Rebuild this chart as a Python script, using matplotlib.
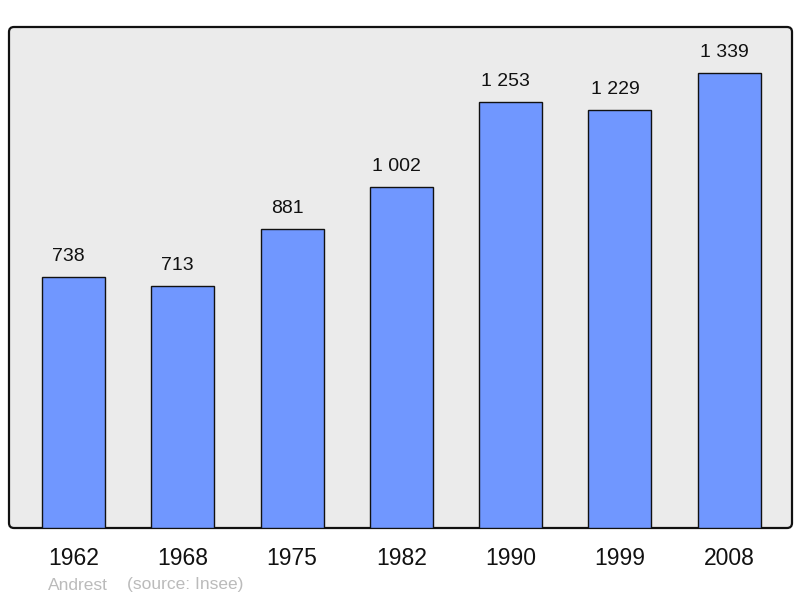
import matplotlib
matplotlib.use("Agg")
import matplotlib.pyplot as plt
from matplotlib.patches import FancyBboxPatch

# data
years = ["1962", "1968", "1975", "1982", "1990", "1999", "2008"]
population = [738, 713, 881, 1002, 1253, 1229, 1339]
value_labels = ["738", "713", "881", "1 002", "1 253", "1 229", "1 339"]

plt.rcParams['font.family'] = ['Liberation Sans', 'DejaVu Sans']

fig = plt.figure(figsize=(8, 5.98), dpi=100)
ax = fig.add_axes([0.01125, 0.1171, 0.97875, 0.8378])
ax.set_zorder(1)
ax.patch.set_visible(False)
for s in ax.spines.values():
    s.set_visible(False)

# rounded frame in pixel coords, behind the axes
frame = FancyBboxPatch((9, 598 - 528), 783, 501,
                       boxstyle="round,pad=0,rounding_size=5",
                       transform=None, facecolor="#ebebeb",
                       edgecolor="#111111", linewidth=1.6, zorder=-1)
fig.patches.append(frame)

x = range(len(years))
ax.bar(x, population, width=0.576, color="#7097ff",
       edgecolor="#111111", linewidth=1.0, zorder=2)

# value labels sit a little left of the bar centre
for i, (v, lab) in enumerate(zip(population, value_labels)):
    ax.annotate(lab, (i, v), xytext=(-3.6, 11.5), textcoords="offset points",
                ha="center", va="baseline", fontsize=14, color="#111111")

ax.set_xlim(-0.59, 6.574)
ax.set_ylim(0, 1474)
ax.set_xticks(list(x))
ax.set_xticklabels(years, fontsize=16.5, color="#111111")
ax.tick_params(axis="x", length=0, pad=13.5)
ax.set_yticks([])

fig.text(48 / 800, 1 - 585 / 598, "Andrest", fontsize=12.5,
         color="#bbbbbb", va="center", ha="left")
fig.text(127 / 800, 1 - 585 / 598, "(source: Insee)", fontsize=12.5,
         color="#bbbbbb", va="center", ha="left")

fig.savefig("out.png", dpi=100)
